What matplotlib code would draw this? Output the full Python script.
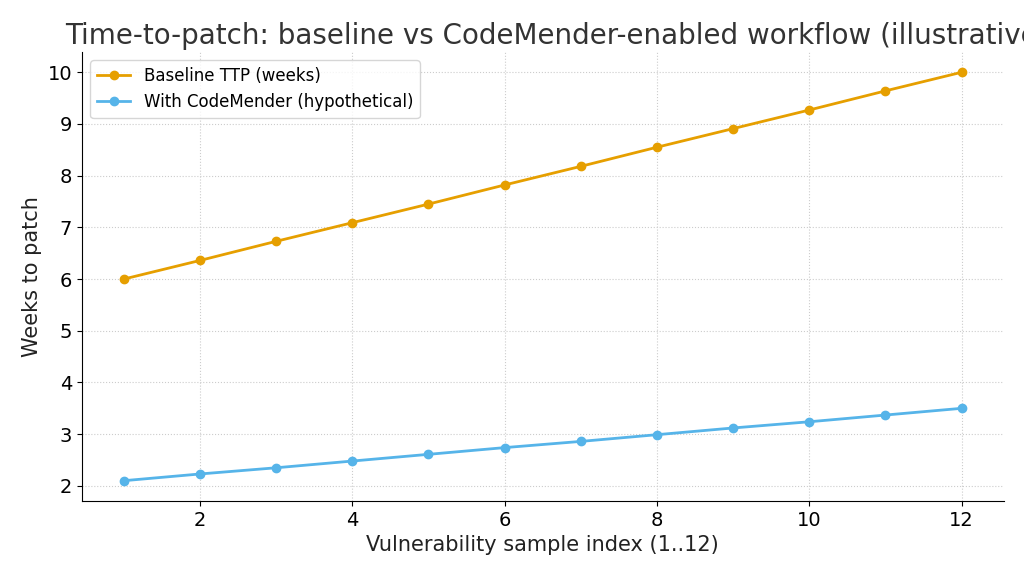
import matplotlib
matplotlib.use('Agg')
import matplotlib.pyplot as plt

idx = list(range(1, 13))
baseline = [6.0, 6.36, 6.73, 7.09, 7.45, 7.82, 8.18, 8.55, 8.91, 9.27, 9.64, 10.0]
codemender = [2.1, 2.23, 2.35, 2.48, 2.61, 2.74, 2.86, 2.99, 3.12, 3.24, 3.37, 3.5]

fig, ax = plt.subplots(figsize=(10.24, 5.76), dpi=100)
ax.plot(idx, baseline, '-o', color='#E69F00', lw=2, ms=6, label='Baseline TTP (weeks)')
ax.plot(idx, codemender, '-o', color='#56B4E9', lw=2, ms=6, label='With CodeMender (hypothetical)')

ax.set_title('Time-to-patch: baseline vs CodeMender-enabled workflow (illustrative)',
             fontsize=20, color='#333333', x=0.515)
ax.set_xlabel('Vulnerability sample index (1..12)', fontsize=15, color='#222222')
ax.set_ylabel('Weeks to patch', fontsize=15, color='#222222')
ax.tick_params(labelsize=14)
ax.set_xticks([2, 4, 6, 8, 10, 12])
ax.set_yticks(range(2, 11))
ax.grid(True, linestyle=':', color='#cccccc', lw=0.8)
ax.spines['top'].set_visible(False)
ax.spines['right'].set_visible(False)
ax.legend(loc='upper left', fontsize=12)
fig.subplots_adjust(left=0.08, right=0.98, top=0.91, bottom=0.13)
fig.savefig('out.png')
